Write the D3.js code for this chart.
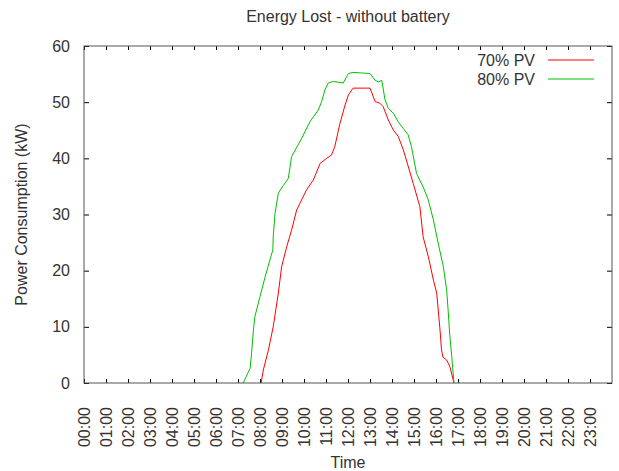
<!DOCTYPE html>
<html>
<head>
<meta charset="utf-8">
<script src="https://cdn.jsdelivr.net/npm/d3@7"></script>
<style>
body { margin: 0; background: #fff; }
text { font-family: "Liberation Sans", Arial, sans-serif; fill: #333; }
</style>
</head>
<body>
<script>
// data (time of day, kW)
var hourLabels = ["00:00","01:00","02:00","03:00","04:00","05:00","06:00","07:00","08:00","09:00","10:00","11:00",
                  "12:00","13:00","14:00","15:00","16:00","17:00","18:00","19:00","20:00","21:00","22:00","23:00"];
var yTicks = [0, 10, 20, 30, 40, 50, 60];

var pv70Times  = ["08:03","08:09","08:23","08:36","08:50","08:59","09:13","09:26","09:40","09:49","10:07","10:25","10:44","11:02","11:15",
                  "11:24","11:38","11:52","12:01","12:14","13:00","13:14","13:27","13:36","13:50","14:04","14:17","14:31","14:58","15:16",
                  "15:25","15:39","15:53","16:02","16:11","16:15","16:19","16:29","16:38","16:49"];
var pv70Values = [0, 2.3, 5.9, 10, 16, 20.7, 24.3, 27.2, 30.8, 32, 34.4, 36.1, 39.1, 40, 40.6,
                  42.1, 46.2, 49.5, 51.3, 52.5, 52.5, 50.1, 49.8, 49.2, 46.8, 45, 43.9, 41.5, 35.5, 31.4,
                  26, 22.5, 18.3, 16, 9.4, 5.9, 4.6, 4.1, 2.9, 0];

var pv80Times  = ["07:14","07:33","07:37","07:42","07:46","08:00","08:14","08:27","08:35","08:36","08:41","08:50","09:04","09:17","09:22",
                  "09:26","09:54","10:16","10:39","10:48","10:57","11:06","11:20","11:47","12:01","12:14","12:37","13:00","13:14","13:23",
                  "13:32","13:41","13:50","14:04","14:17","14:31","14:44","14:53","15:07","15:25","15:39","15:53","16:06","16:20","16:29",
                  "16:33","16:38","16:43","16:49"];
var pv80Values = [0, 2.6, 5.3, 9.4, 11.8, 15.4, 18.9, 21.9, 23.7, 26, 30.2, 33.8, 35.2, 36.4, 38.5,
                  40.3, 43.6, 46.5, 48.6, 50.1, 52.2, 53.4, 53.7, 53.4, 55.1, 55.3, 55.2, 55.1, 53.9, 53.6,
                  53.9, 50.4, 48.9, 48, 46.5, 45.3, 44.2, 42.1, 37.3, 34.9, 32.6, 29, 24.9, 20.7, 16.6,
                  13, 8.2, 4.7, 0];

var series = [
    {name: "70% PV", color: "#ff0000", times: pv70Times, values: pv70Values},
    {name: "80% PV", color: "#00c000", times: pv80Times, values: pv80Values}
];

var width = 619, height = 471;
var margin = {top: 46, right: 7, bottom: 88, left: 84};

function toMin(t) { var p = t.split(":"); return +p[0] * 60 + +p[1]; }

var svg = d3.select("body").append("svg")
    .attr("width", width)
    .attr("height", height);

var x = d3.scaleLinear().domain([0, 24 * 60]).range([margin.left, width - margin.right]);
var y = d3.scaleLinear().domain([0, 60]).range([height - margin.bottom, margin.top]);

var hourMin = hourLabels.map(toMin);

// curves
var line = d3.line()
    .x(function(d) { return x(d[0]); })
    .y(function(d) { return y(d[1]); });

series.forEach(function(s) {
    var pts = s.times.map(function(t, i) { return [toMin(t), s.values[i]]; });
    svg.append("path")
        .datum(pts)
        .attr("fill", "none")
        .attr("stroke", s.color)
        .attr("stroke-width", 1)
        .attr("d", line);
});

// axes (ticks inward, like gnuplot)
var gx = svg.append("g")
    .attr("transform", "translate(0," + y(0) + ")")
    .call(d3.axisBottom(x).tickValues(hourMin).tickSize(-4)
        .tickFormat(function(d, i) { return hourLabels[i]; }));
gx.selectAll("text")
    .attr("transform", "rotate(-90)")
    .attr("x", -24).attr("y", 0).attr("dy", "0.35em")
    .style("text-anchor", "end");

var gxTop = svg.append("g")
    .attr("transform", "translate(0," + y(60) + ")")
    .call(d3.axisTop(x).tickValues(hourMin).tickSize(-4).tickFormat(""));

var gy = svg.append("g")
    .attr("transform", "translate(" + x(0) + ",0)")
    .call(d3.axisLeft(y).tickValues(yTicks).tickSize(-5).tickPadding(14));

var gyRight = svg.append("g")
    .attr("transform", "translate(" + x(24 * 60) + ",0)")
    .call(d3.axisRight(y).tickValues(yTicks).tickSize(-5).tickFormat(""));

[gx, gxTop, gy, gyRight].forEach(function(g) {
    g.select(".domain").remove();
    g.selectAll(".tick line").attr("stroke", "#000");
    g.selectAll("text").style("font-size", "16px").style("font-family", null).attr("fill", "#333");
});

// border
svg.append("rect")
    .attr("x", x(0)).attr("y", y(60))
    .attr("width", x(24 * 60) - x(0))
    .attr("height", y(0) - y(60))
    .attr("fill", "none")
    .attr("stroke", "#555")
    .attr("stroke-width", 1);

// title and axis labels
svg.append("text")
    .attr("x", (x(0) + x(24 * 60)) / 2).attr("y", 22)
    .attr("text-anchor", "middle")
    .style("font-size", "16px")
    .text("Energy Lost - without battery");

svg.append("text")
    .attr("transform", "translate(27," + (y(30)) + ") rotate(-90)")
    .attr("text-anchor", "middle")
    .style("font-size", "16px")
    .text("Power Consumption (kW)");

svg.append("text")
    .attr("x", (x(0) + x(24 * 60)) / 2).attr("y", 468)
    .attr("text-anchor", "middle")
    .style("font-size", "16px")
    .text("Time");

// legend
var legend = svg.append("g");
series.forEach(function(s, i) {
    var ly = 60 + i * 19;
    legend.append("text")
        .attr("x", 535).attr("y", ly).attr("dy", "0.35em")
        .attr("text-anchor", "end")
        .style("font-size", "16px")
        .text(s.name);
    legend.append("line")
        .attr("x1", 548).attr("x2", 594)
        .attr("y1", ly).attr("y2", ly)
        .attr("stroke", s.color)
        .attr("stroke-width", 1);
});
</script>
</body>
</html>
